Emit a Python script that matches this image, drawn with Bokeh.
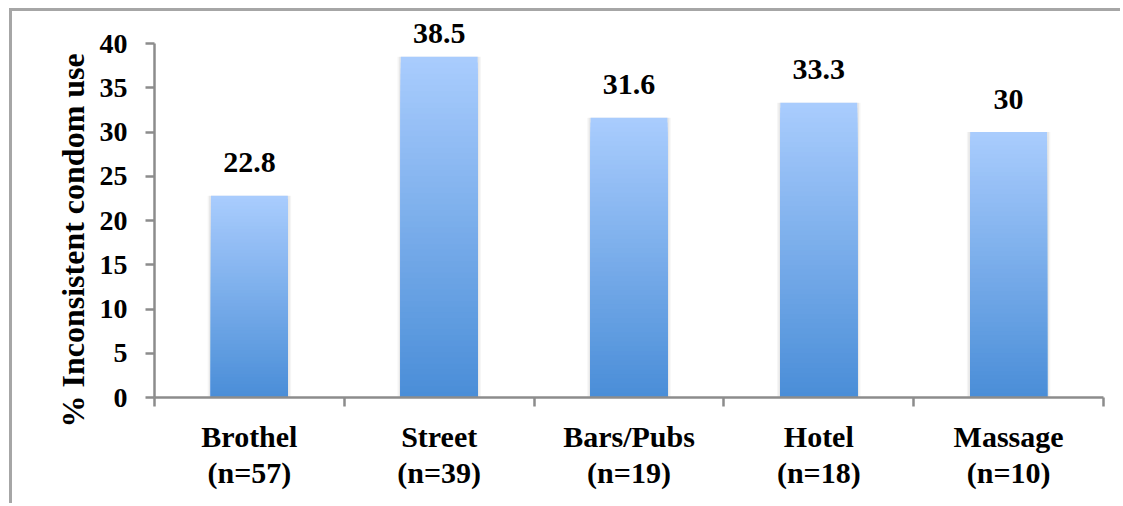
from bokeh.plotting import figure
from bokeh.models import Range1d, FixedTicker, ColumnDataSource, Title
from bokeh.core.properties import value
from bokeh.embed import file_html
from bokeh.resources import INLINE

categories = ["Brothel\n(n=57)", "Street\n(n=39)", "Bars/Pubs\n(n=19)", "Hotel\n(n=18)", "Massage\n(n=10)"]
values = [22.8, 38.5, 31.6, 33.3, 30.0]
value_labels = ["22.8", "38.5", "31.6", "33.3", "30"]
y_ticks = [0, 5, 10, 15, 20, 25, 30, 35, 40]
y_title = "% Inconsistent condom use"

FONT = "Liberation Serif"
AXIS_COLOR = "#8c8c8c"

p = figure(width=1111, height=495, output_backend="svg", toolbar_location=None,
           x_range=Range1d(0, len(categories)), y_range=Range1d(0, 43.62),
           min_border_left=142, min_border_right=20, min_border_top=0, min_border_bottom=109)
p.styles = {"margin-left": "9px", "margin-top": "8px",
            "border-left": "3px solid #a6a6a6", "border-top": "3px solid #a6a6a6"}
p.outline_line_color = None
p.xgrid.visible = False
p.ygrid.visible = False
p.background_fill_color = "white"
p.border_fill_color = "white"

xc = [i + 0.5 for i in range(len(values))]

# soft shadow behind bars
p.vbar(x=xc, top=values, bottom=0, width=0.44, fill_color="black", fill_alpha=0.04, line_color=None)
p.vbar(x=xc, top=values, bottom=0, width=0.425, fill_color="black", fill_alpha=0.05, line_color=None)

# gradient bars: overlapping bars drawn from tallest to shortest, light at top, darker at bottom
N = 60
top_c = (170, 205, 254)
bot_c = (74, 142, 216)
xs, tops, colors = [], [], []
for k in range(N - 1, -1, -1):
    t = (k + 0.5) / N
    r = int(bot_c[0] + (top_c[0] - bot_c[0]) * t)
    g = int(bot_c[1] + (top_c[1] - bot_c[1]) * t)
    b = int(bot_c[2] + (top_c[2] - bot_c[2]) * t)
    for i, v in enumerate(values):
        xs.append(i + 0.5)
        tops.append(v * (k + 1) / N)
        colors.append("#%02x%02x%02x" % (r, g, b))
src = ColumnDataSource(dict(x=xs, top=tops, color=colors))
p.vbar(x="x", bottom=0, top="top", width=0.405, fill_color="color", line_color=None, source=src)

# value labels; the tallest one is pushed down to stay inside the plot area
label_dy = [-23 if v > 36 else -33 for v in values]
lab = ColumnDataSource(dict(x=xc, y=values, t=value_labels, dy=label_dy))
p.text(x="x", y="y", text="t", source=lab, text_align="center", text_baseline="alphabetic",
       y_offset="dy", text_font=value(FONT), text_font_style="bold",
       text_font_size="30px", text_color="black")

# y axis
ya = p.yaxis[0]
ya.ticker = FixedTicker(ticks=y_ticks)
ya.bounds = (0, 40)
ya.axis_line_color = AXIS_COLOR
ya.axis_line_width = 2.5
ya.major_tick_line_color = AXIS_COLOR
ya.major_tick_line_width = 2.5
ya.major_tick_out = 9
ya.major_tick_in = 0
ya.minor_tick_line_color = None
ya.major_label_standoff = 18
ya.major_label_text_font = FONT
ya.major_label_text_font_style = "bold"
ya.major_label_text_font_size = "28px"
ya.major_label_text_color = "black"

p.add_layout(Title(text=y_title, align="left", offset=-30, standoff=12,
                   text_font=FONT, text_font_style="bold", text_font_size="32px",
                   text_color="black"), "left")

# x axis: labels at centres, ticks at category boundaries
xa = p.xaxis[0]
xa.ticker = FixedTicker(ticks=xc, minor_ticks=list(range(len(categories) + 1)))
xa.major_label_overrides = {c: lbl for c, lbl in zip(xc, categories)}
xa.axis_line_color = AXIS_COLOR
xa.axis_line_width = 2.5
xa.major_tick_line_color = None
xa.major_tick_out = 9
xa.minor_tick_line_color = AXIS_COLOR
xa.minor_tick_line_width = 2.5
xa.minor_tick_out = 9
xa.minor_tick_in = 0
xa.major_label_standoff = 13
xa.major_label_text_font = FONT
xa.major_label_text_font_style = "bold"
xa.major_label_text_font_size = "30px"
xa.major_label_text_color = "black"
xa.major_label_text_line_height = 1.1

open("out.html", "w").write(file_html(p, INLINE))
